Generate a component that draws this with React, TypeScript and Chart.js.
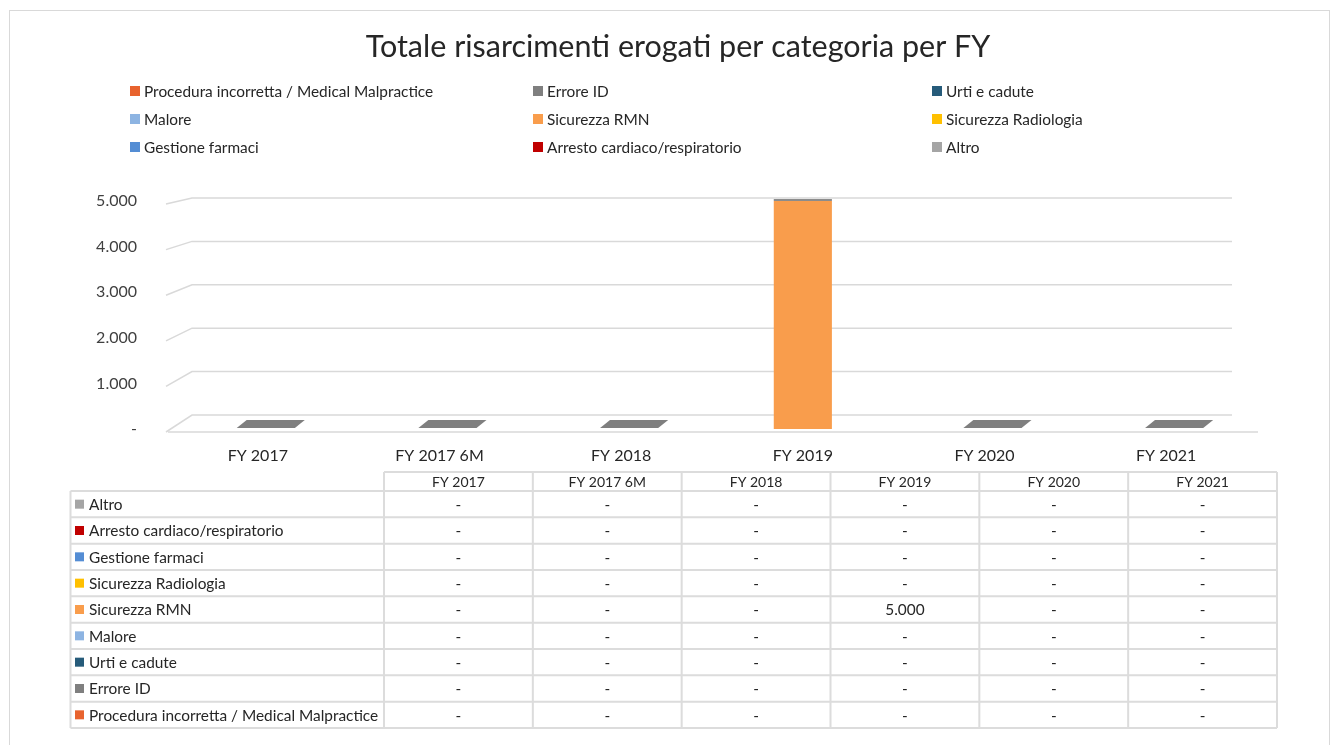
import React, { useEffect, useRef } from 'react';
import { Chart, registerables } from 'chart.js';

Chart.register(...registerables);

const title = 'Totale risarcimenti erogati per categoria per FY';
const categories = ['FY 2017', 'FY 2017 6M', 'FY 2018', 'FY 2019', 'FY 2020', 'FY 2021'];
const seriesNames = [
  'Procedura incorretta / Medical Malpractice',
  'Errore ID',
  'Urti e cadute',
  'Malore',
  'Sicurezza RMN',
  'Sicurezza Radiologia',
  'Gestione farmaci',
  'Arresto cardiaco/respiratorio',
  'Altro',
];
const procedura = [0, 0, 0, 0, 0, 0];
const erroreId = [0, 0, 0, 0, 0, 0];
const urtiCadute = [0, 0, 0, 0, 0, 0];
const malore = [0, 0, 0, 0, 0, 0];
const sicurezzaRmn = [0, 0, 0, 5000, 0, 0];
const sicurezzaRadiologia = [0, 0, 0, 0, 0, 0];
const gestioneFarmaci = [0, 0, 0, 0, 0, 0];
const arrestoCardiaco = [0, 0, 0, 0, 0, 0];
const altro = [0, 0, 0, 0, 0, 0];
const seriesValues = [
  procedura, erroreId, urtiCadute, malore, sicurezzaRmn,
  sicurezzaRadiologia, gestioneFarmaci, arrestoCardiaco, altro,
];
const seriesColors = [
  '#e8632e', '#7f7f7f', '#265b7a', '#8db4e2', '#f99d4c',
  '#ffc000', '#548dd4', '#c00000', '#a5a5a5',
];
const yTickValues = [0, 1000, 2000, 3000, 4000, 5000];

const FONT = 'Lato, "Open Sans", "DejaVu Sans", sans-serif';
const TEXT = '#262626';
const LINE = '#d9d9d9';

function fmt(v: number): string {
  if (v === 0) return '-';
  return String(Math.round(v)).replace(/\B(?=(\d{3})+(?!\d))/g, '.');
}

const decor = {
  id: 'decor',
  beforeDraw(chart: any) {
    const ctx = chart.ctx as CanvasRenderingContext2D;
    ctx.save();
    ctx.fillStyle = '#ffffff';
    ctx.fillRect(0, 0, chart.width, chart.height);
    ctx.strokeStyle = LINE;
    ctx.lineWidth = 1;
    ctx.strokeRect(9.5, 10.5, 1320, 745);
    // title
    ctx.fillStyle = TEXT;
    ctx.font = `30.5px ${FONT}`;
    ctx.textAlign = 'center';
    ctx.textBaseline = 'middle';
    ctx.fillText(title, 678, 47);
    // legend
    const colX = [130, 533, 932];
    const rowY = [91, 119, 147];
    ctx.font = `15.4px ${FONT}`;
    ctx.textAlign = 'left';
    seriesNames.forEach((name, i) => {
      const x = colX[i % 3];
      const y = rowY[Math.floor(i / 3)];
      ctx.fillStyle = seriesColors[i];
      ctx.fillRect(x, y - 5, 10, 10);
      ctx.fillStyle = TEXT;
      ctx.fillText(name, x + 14, y + 1);
    });
    ctx.restore();
  },
  beforeDatasetsDraw(chart: any) {
    const ctx = chart.ctx as CanvasRenderingContext2D;
    const ys = chart.scales.y;
    const area = chart.chartArea;
    const p0 = ys.getPixelForValue(0);
    const pTop = ys.getPixelForValue(ys.max);
    ctx.save();
    ctx.strokeStyle = LINE;
    ctx.lineWidth = 1.5;
    ys.ticks.forEach((t: any) => {
      const pix = ys.getPixelForValue(t.value);
      const f = (pix - pTop) / (p0 - pTop);
      const yf = pix + 3;
      const yb = yf - (6 + 11 * f);
      ctx.beginPath();
      ctx.moveTo(area.left - 1, yf);
      ctx.lineTo(area.left + 25, yb);
      ctx.lineTo(area.right - 25, yb);
      ctx.stroke();
      if (t.value === 0) {
        ctx.beginPath();
        ctx.moveTo(area.left + 1, yf);
        ctx.lineTo(area.right + 1, yf);
        ctx.stroke();
      }
    });
    ctx.restore();
  },
  afterDatasetsDraw(chart: any) {
    const ctx = chart.ctx as CanvasRenderingContext2D;
    const ys = chart.scales.y;
    const p0 = ys.getPixelForValue(0);
    const pTop = ys.getPixelForValue(ys.max);
    const meta = chart.getDatasetMeta(0);
    ctx.save();
    categories.forEach((_, j) => {
      let total = 0;
      seriesValues.forEach((s) => { total += s[j]; });
      const bar = meta.data[j] as any;
      const w = bar.width;
      const y = ys.getPixelForValue(total) - (total === 0 ? 1 : 0);
      const f = (y - pTop) / (p0 - pTop);
      const shift = 8 * f;
      const dx = 10 * f;
      const dy = 2 + 6 * f;
      const l = bar.x - w / 2 + shift;
      const r = bar.x + w / 2 + shift;
      ctx.fillStyle = total === 0 ? '#7f7f7f' : '#8c8c8c';
      ctx.beginPath();
      ctx.moveTo(l, y);
      ctx.lineTo(r, y);
      ctx.lineTo(r + dx, y - dy);
      ctx.lineTo(l + dx, y - dy);
      ctx.closePath();
      ctx.fill();
    });
    ctx.restore();
  },
  afterDraw(chart: any) {
    const ctx = chart.ctx as CanvasRenderingContext2D;
    const leftX = 70.5;
    const dataX = 384;
    const rightX = 1277;
    const colW = (rightX - dataX) / categories.length;
    const headTop = 472;
    const headBottom = 491;
    const rowH = (728 - headBottom) / seriesNames.length;
    const order = seriesNames.map((_, i) => seriesNames.length - 1 - i);
    ctx.save();
    ctx.strokeStyle = '#dcdcdc';
    ctx.lineWidth = 2;
    ctx.beginPath();
    ctx.moveTo(dataX, headTop);
    ctx.lineTo(rightX, headTop);
    for (let c = 0; c <= categories.length; c++) {
      const x = dataX + c * colW;
      ctx.moveTo(x, headTop);
      ctx.lineTo(x, headBottom + rowH * seriesNames.length);
    }
    for (let r = 0; r <= seriesNames.length; r++) {
      const y = headBottom + r * rowH;
      ctx.moveTo(leftX, y);
      ctx.lineTo(rightX, y);
    }
    ctx.moveTo(leftX, headBottom);
    ctx.lineTo(leftX, headBottom + rowH * seriesNames.length);
    ctx.stroke();

    ctx.textBaseline = 'middle';
    ctx.textAlign = 'center';
    ctx.fillStyle = TEXT;
    ctx.font = `14px ${FONT}`;
    categories.forEach((cat, c) => {
      ctx.fillText(cat, dataX + (c + 0.5) * colW, (headTop + headBottom) / 2 + 1);
    });
    ctx.font = `15.4px ${FONT}`;
    order.forEach((si, r) => {
      const yc = headBottom + (r + 0.5) * rowH;
      ctx.fillStyle = seriesColors[si];
      ctx.fillRect(75, yc - 4.5, 9, 9);
      ctx.fillStyle = TEXT;
      ctx.textAlign = 'left';
      ctx.fillText(seriesNames[si], 89, yc + 1);
      ctx.textAlign = 'center';
      seriesValues[si].forEach((v, c) => {
        ctx.fillText(fmt(v), dataX + (c + 0.5) * colW, yc + 1);
      });
    });
    ctx.restore();
  },
};

export default function App() {
  const ref = useRef<HTMLCanvasElement | null>(null);
  useEffect(() => {
    if (!ref.current) return;
    const chart = new Chart(ref.current, {
      type: 'bar',
      data: {
        labels: categories,
        datasets: seriesNames.map((name, i) => ({
          label: name,
          data: seriesValues[i],
          backgroundColor: seriesColors[i],
          borderWidth: 0,
          barPercentage: 0.32,
          categoryPercentage: 1,
        })),
      },
      options: {
        responsive: false,
        animation: false,
        layout: { padding: { left: 0, right: 78, top: 201, bottom: 276 } },
        plugins: {
          legend: { display: false },
          title: { display: false },
          tooltip: { enabled: false },
        },
        scales: {
          x: {
            stacked: true,
            grid: { display: false, drawTicks: false },
            border: { display: false },
            ticks: { color: TEXT, font: { family: FONT, size: 16 }, padding: 17, maxRotation: 0 },
            afterFit: (s: any) => { s.height = 40; },
          },
          y: {
            stacked: true,
            min: 0,
            max: 5000,
            afterBuildTicks: (s: any) => { s.ticks = yTickValues.map((v) => ({ value: v })); },
            grid: { display: false, drawTicks: false },
            border: { display: false },
            ticks: {
              color: '#404040',
              font: { family: FONT, size: 16 },
              padding: 30,
              callback: (v: any) => fmt(Number(v)),
            },
            afterFit: (s: any) => { s.width = 167; },
          },
        },
      },
      plugins: [decor],
    });
    return () => chart.destroy();
  }, []);
  return (
    <div style={{ position: 'fixed', left: 0, top: 0, width: 1335, height: 745, background: '#fff' }}>
      <canvas ref={ref} width={1335} height={745} style={{ display: 'block' }} />
    </div>
  );
}
